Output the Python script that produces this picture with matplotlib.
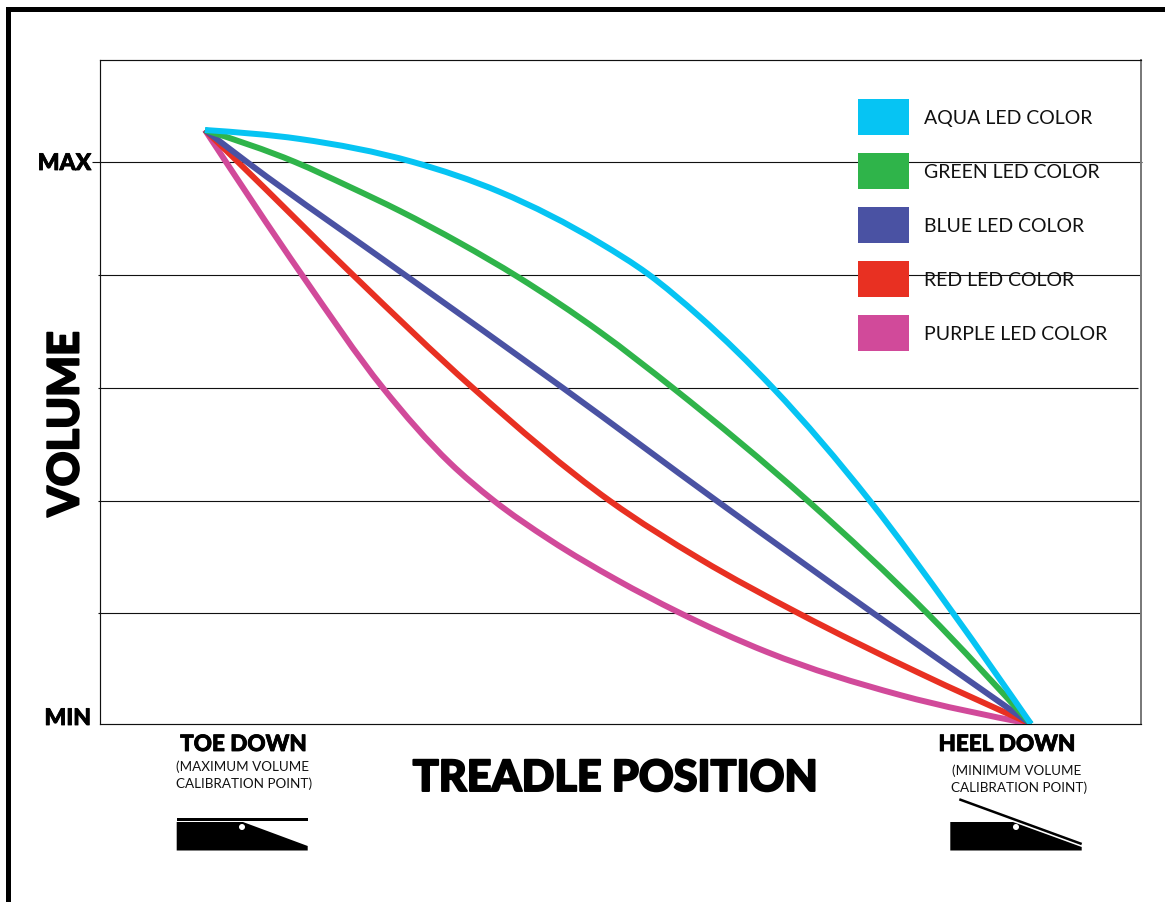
import matplotlib
matplotlib.use("Agg")
import matplotlib.pyplot as plt
import matplotlib.patheffects as pe
from matplotlib.path import Path
from matplotlib.patches import Polygon, Circle, Rectangle, PathPatch

W, H = 1165, 903

# treadle position (0 = toe down, 826 = heel down); volume (0 = MIN, 562 = MAX)
aqua_pos = [0, 95, 208, 295, 395, 443, 495, 568, 665, 748, 826]
aqua_vol = [594, 585, 562, 532, 481, 450, 407, 336, 223, 111, 0]
green_pos = [0, 90, 145, 195, 255, 313, 395, 468, 603, 722, 826]
green_vol = [594, 562, 537, 513, 481, 447, 392, 336, 223, 111, 0]
blue_pos = [0, 42, 200, 358, 512, 668, 826]
blue_vol = [594, 562, 449, 336, 223, 111, 0]
red_pos = [0, 33, 148, 268, 405, 495, 593, 712, 826]
red_vol = [594, 562, 449, 336, 223, 165, 111, 52, 0]
purple_pos = [0, 97, 178, 245, 288, 345, 412, 473, 562, 695, 826]
purple_vol = [594, 449, 336, 261, 224, 184, 144, 112, 72, 29, 0]

grid_levels = [562, 449, 336, 223, 111]
legend_labels = ["AQUA LED COLOR", "GREEN LED COLOR", "BLUE LED COLOR", "RED LED COLOR", "PURPLE LED COLOR"]

AQUA, GREEN, BLUE, RED, PURPLE = "#06C4F3", "#2FB44A", "#4A52A3", "#E83022", "#D14A9A"


def heavy(lw):
    return dict(family="Lato", weight="black", color="black",
                path_effects=[pe.withStroke(linewidth=lw, foreground="black")])


LIGHT = dict(family="Lato", weight="normal", color="#111111")


def smooth_path(xs, ys):
    """Bezier path passing through every read point (Hermite tangents)."""
    n = len(xs)
    h = [xs[i + 1] - xs[i] for i in range(n - 1)]
    d = [(ys[i + 1] - ys[i]) / h[i] for i in range(n - 1)]
    m = [0.0] * n
    for i in range(1, n - 1):
        m[i] = (d[i - 1] * h[i] + d[i] * h[i - 1]) / (h[i - 1] + h[i])
    m[0] = 1.5 * d[0] - 0.5 * m[1]
    m[-1] = 1.5 * d[-1] - 0.5 * m[-2]
    verts, codes = [(xs[0], ys[0])], [Path.MOVETO]
    for i in range(n - 1):
        verts += [(xs[i] + h[i] / 3, ys[i] + m[i] * h[i] / 3),
                  (xs[i + 1] - h[i] / 3, ys[i + 1] - m[i + 1] * h[i] / 3),
                  (xs[i + 1], ys[i + 1])]
        codes += [Path.CURVE4] * 3
    return Path(verts, codes)


fig = plt.figure(figsize=(W / 100, H / 100), dpi=100, facecolor="white")

# overlay in pixel coordinates for the page furniture
page = fig.add_axes([0, 0, 1, 1], zorder=3)
page.set_xlim(0, W)
page.set_ylim(H - 1, -1)
page.axis("off")
page.patch.set_alpha(0)

# plot area spans pixels x 100..1141, y 60..724
ax = fig.add_axes([100 / W, 1 - 725 / H, 1041 / W, 664 / H], zorder=2)
ax.set_xlim(-105, 936)
ax.set_ylim(0, 664)
ax.set_xticks([])
ax.set_yticks([])
for s in ax.spines.values():
    s.set_linewidth(0.85)
    s.set_color("#111111")
ax.spines["right"].set_color("#777777")
ax.spines["right"].set_linewidth(1.4)

lefts = [-113, -107, -107, -107, -107]
rights = [937, 936, 933, 934, 935]
ax.hlines(grid_levels, lefts, rights, color="#111111", lw=0.8, clip_on=False, zorder=1)

for xs, ys, c in [(purple_pos, purple_vol, PURPLE), (red_pos, red_vol, RED), (blue_pos, blue_vol, BLUE),
                  (green_pos, green_vol, GREEN), (aqua_pos, aqua_vol, AQUA)]:
    ax.add_patch(PathPatch(smooth_path(xs, ys), fc="none", ec=c, lw=4.3, capstyle="butt", joinstyle="round", zorder=3))

# page border
page.add_patch(Rectangle((6, 7), 4.5, H, fc="black", ec="none"))
page.add_patch(Rectangle((6, 7), W, 5, fc="black", ec="none"))

# legend
for i, (lab, c) in enumerate(zip(legend_labels, [AQUA, GREEN, BLUE, RED, PURPLE])):
    top = 99 + 54 * i
    page.add_patch(Rectangle((858, top), 51, 36, fc=c, ec="none"))
    page.text(924, top + 18, lab, fontsize=14, va="center", ha="left", **LIGHT)

# axis texts
page.text(91, 163.5, "MAX", fontsize=16.5, ha="right", va="center", **heavy(0.6))
page.text(91, 718.5, "MIN", fontsize=16.5, ha="right", va="center", **heavy(0.6))
page.text(65.5, 424, "VOLUME", fontsize=31, rotation=90, ha="center", va="center", **heavy(1.4))
page.text(615, 778, "TREADLE POSITION", fontsize=31, ha="center", va="center", **heavy(1.4))

page.text(243.5, 744.5, "TOE DOWN", fontsize=16.2, ha="center", va="center", **heavy(0.6))
page.text(243, 766, "(MAXIMUM VOLUME", fontsize=9.7, ha="center", va="center", **LIGHT)
page.text(244, 783, "CALIBRATION POINT)", fontsize=9.7, ha="center", va="center", **LIGHT)
page.text(1007, 744.5, "HEEL DOWN", fontsize=16.2, ha="center", va="center", **heavy(0.6))
page.text(1017, 770, "(MINIMUM VOLUME", fontsize=9.7, ha="center", va="center", **LIGHT)
page.text(1019, 787, "CALIBRATION POINT)", fontsize=9.7, ha="center", va="center", **LIGHT)

# toe-down pedal icon
page.add_patch(Rectangle((177, 818), 131, 3, fc="black", ec="none"))
page.add_patch(Polygon([(176.7, 822), (243, 822), (307.7, 846), (307.7, 850.5), (176.7, 850.5)], fc="black", ec="none"))
page.add_patch(Circle((242, 827), 3, fc="white", ec="none"))

# heel-down pedal icon
page.add_patch(Polygon([(950.3, 822), (1013, 822), (1081.7, 847), (1081.7, 850.5), (950.3, 850.5)], fc="black", ec="none"))
page.plot([959.3, 1081.7], [799.3, 844], color="black", lw=1.8, solid_capstyle="butt")
page.add_patch(Circle((1016, 827), 3, fc="white", ec="none"))

fig.savefig("out.png", dpi=100, facecolor="white")
